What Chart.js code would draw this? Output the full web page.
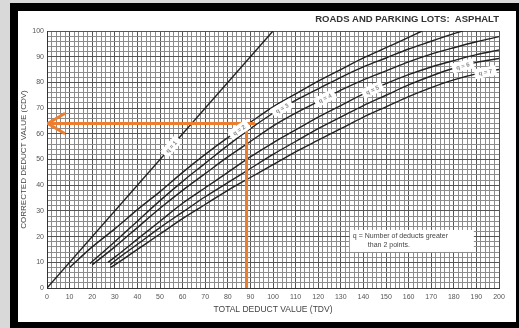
<!DOCTYPE html>
<html><head><meta charset="utf-8">
<script src="https://cdn.jsdelivr.net/npm/chart.js@4.4.0/dist/chart.umd.min.js"></script>
<style>
html,body{margin:0;padding:0;background:#d9d9d9;width:519px;height:328px;overflow:hidden}
#frame{position:absolute;left:10px;top:3px;width:509px;height:325px;background:#000}
#paper{position:absolute;left:8px;top:8px;width:498px;height:311px;background:#fff}
canvas{display:block}
</style></head><body>
<div id="frame"><div id="paper"><canvas id="c" width="498" height="311"></canvas></div></div>
<script>
// ---- data (TDV, CDV) ----
const q1TDV = [0, 100];
const q1CDV = [0, 100];
const q2TDV = [10, 20, 30, 40, 50, 60, 70, 80, 90, 100, 110, 120, 130, 140, 150, 160, 166];
const q2CDV = [8, 16, 23, 30.5, 37.5, 45, 52, 58.5, 64.5, 70.5, 75.5, 80.5, 85, 89.5, 93.5, 97.5, 100];
const q3TDV = [19, 30, 40, 50, 60, 70, 80, 90, 100, 110, 120, 130, 140, 150, 160, 170, 180, 184];
const q3CDV = [9.5, 18, 26, 34, 41.5, 48.5, 55.5, 62, 68, 73, 77.5, 82, 86, 89.5, 93, 96, 99, 100];
const q4TDV = [20, 30, 40, 50, 60, 70, 80, 90, 100, 110, 120, 130, 140, 150, 160, 170, 180, 190, 200];
const q4CDV = [9, 16, 23.5, 31, 38, 44.5, 51, 57, 63, 68, 72.5, 77, 81, 84.5, 88, 91, 93.5, 95.8, 97.8];
const q5TDV = [27, 30, 40, 50, 60, 70, 80, 90, 100, 110, 120, 130, 140, 150, 160, 170, 180, 190, 200];
const q5CDV = [10, 12, 19, 26, 33, 39, 45, 51, 56.5, 61.5, 66.5, 71, 75.5, 79.5, 83, 86, 88.5, 90.8, 92.6];
const q6TDV = [28, 30, 40, 50, 60, 70, 80, 90, 100, 110, 120, 130, 140, 150, 160, 170, 180, 190, 200];
const q6CDV = [9, 10.5, 17, 23.5, 29.5, 35.5, 41, 46.5, 52, 57, 62, 66.5, 71, 75, 79, 82.5, 85.5, 87.8, 89.3];
const q7TDV = [28, 30, 40, 50, 60, 70, 80, 90, 100, 110, 120, 130, 140, 150, 160, 170, 180, 190, 200];
const q7CDV = [8, 9, 15, 21, 27, 32.5, 38, 43, 48, 53, 57.5, 62, 66.5, 70.5, 74.5, 78, 81, 83.3, 85];
const curveNames = ['q = 1', 'q = 2', 'q = 3', 'q = 4', 'q = 5', 'q = 6', 'q = 7'];
const labelTDV = [55, 85, 104, 123, 144, 184, 194];

// orange example path
const exampleTDV = 88.3;
const exampleCDV = 64;
const exampleLineEndTDV = 92;
const arrowTipTDV = 0.4;
const arrowArmTDV = 8;
const arrowArmCDV = 4;

// ticks
const xMin = 0, xMax = 200, xLabelStep = 10, xGridStep = 2;
const yMin = 0, yMax = 100, yLabelStep = 10, yGridStep = 2;

const titleText = 'ROADS AND PARKING LOTS:  ASPHALT';
const xTitle = 'TOTAL DEDUCT VALUE (TDV)';
const yTitle = 'CORRECTED DEDUCT VALUE (CDV)';
const noteLines = ['q = Number of deducts greater', 'than 2 points.'];
const noteTDV = 134, noteCDV = 22.6;

// ---- build ----
const curves = [[q1TDV,q1CDV],[q2TDV,q2CDV],[q3TDV,q3CDV],[q4TDV,q4CDV],[q5TDV,q5CDV],[q6TDV,q6CDV],[q7TDV,q7CDV]];
const pts = (xs, ys) => xs.map((x,i)=>({x, y: ys[i]}));
const ORANGE = '#EE7E2F';
const FONT = '"Liberation Sans", Arial, sans-serif';

const datasets = [];
datasets.push({data: pts([exampleTDV, exampleTDV],[0, exampleCDV]), borderColor: ORANGE, borderWidth: 3, order: 0});
datasets.push({data: pts([exampleLineEndTDV, arrowTipTDV],[exampleCDV, exampleCDV]), borderColor: ORANGE, borderWidth: 3, order: 0});
datasets.push({data: pts([arrowArmTDV, arrowTipTDV, arrowArmTDV],[exampleCDV+arrowArmCDV, exampleCDV, exampleCDV-arrowArmCDV]), borderColor: ORANGE, borderWidth: 3, order: 0});
curves.forEach(([xs,ys],i)=>{
  datasets.push({label: curveNames[i], data: pts(xs,ys), borderColor:'#222', borderWidth:1.4,
    cubicInterpolationMode:'monotone', order: 2});
});

function interp(xs, ys, x){
  for(let i=0;i<xs.length-1;i++){
    if(x>=xs[i] && x<=xs[i+1]){const t=(x-xs[i])/(xs[i+1]-xs[i]);return ys[i]+t*(ys[i+1]-ys[i]);}
  }
  return ys[ys.length-1];
}

const labelPlugin = {
  id:'curveLabels',
  afterDatasetsDraw(chart){
    const {ctx, scales:{x, y}} = chart;
    ctx.save();
    curves.forEach(([xs,ys],i)=>{
      const t = labelTDV[i];
      const px = x.getPixelForValue(t), py = y.getPixelForValue(interp(xs,ys,t));
      const p1x = x.getPixelForValue(t-3), p1y = y.getPixelForValue(interp(xs,ys,t-3));
      const p2x = x.getPixelForValue(t+3), p2y = y.getPixelForValue(interp(xs,ys,t+3));
      const ang = Math.atan2(p2y-p1y, p2x-p1x);
      ctx.save();
      ctx.translate(px, py);
      ctx.rotate(ang);
      ctx.fillStyle = '#fff';
      ctx.fillRect(-11, -5, 22, 10);
      ctx.fillStyle = '#8a8a8a';
      ctx.font = 'bold 6px ' + FONT;
      ctx.textAlign = 'center'; ctx.textBaseline = 'middle';
      ctx.fillText(curveNames[i], 0, 0.5);
      ctx.restore();
    });
    // note box
    const nx = x.getPixelForValue(noteTDV), ny = y.getPixelForValue(noteCDV);
    ctx.fillStyle = '#fff';
    ctx.fillRect(nx, ny, 124, 22);
    ctx.fillStyle = '#444';
    ctx.font = '7px ' + FONT;
    ctx.textAlign = 'left'; ctx.textBaseline = 'middle';
    ctx.fillText(noteLines[0], nx+3, ny+6.5);
    ctx.fillText(noteLines[1], nx+18, ny+15.5);
    ctx.restore();
  }
};

const gridColor = (ctx) => (ctx.tick && ctx.tick.value % 10 === 0) ? '#555' : '#8c8c8c';
const tickFont = {family:FONT, size:7};

new Chart(document.getElementById('c'), {
  type:'line',
  data:{datasets},
  options:{
    responsive:false, animation:false, devicePixelRatio:1,
    elements:{point:{radius:0}, line:{tension:0}},
    layout:{padding:{left:0, right:17, top:0, bottom:0}},
    plugins:{
      legend:{display:false}, tooltip:{enabled:false},
      title:{display:true, text:titleText, align:'end', color:'#333',
        font:{family:FONT, size:9.5, weight:'bold'},
        padding:{top:3, bottom:5.6}}
    },
    scales:{
      x:{type:'linear', min:xMin, max:xMax,
        ticks:{stepSize:xGridStep, autoSkip:false, maxRotation:0, padding:5, color:'#555', font:tickFont,
          callback:(v)=> v % xLabelStep === 0 ? String(v) : ''},
        grid:{color:gridColor, lineWidth:1, drawTicks:false},
        border:{display:true, color:'#333', width:1},
        title:{display:true, text:xTitle, color:'#444', font:{family:FONT, size:8.5}, padding:{top:0,bottom:7}},
        afterFit:(s)=>{s.height=34;}
      },
      y:{type:'linear', min:yMin, max:yMax,
        ticks:{stepSize:yGridStep, autoSkip:false, padding:3, color:'#555', font:tickFont,
          callback:(v)=> v % yLabelStep === 0 ? String(v) : ''},
        grid:{color:gridColor, lineWidth:1, drawTicks:false},
        border:{display:true, color:'#333', width:1},
        title:{display:true, text:yTitle, color:'#444', font:{family:FONT, size:8}, padding:{top:0.5,bottom:0}},
        afterFit:(s)=>{s.width=29;}
      }
    }
  },
  plugins:[labelPlugin]
});
</script>
</body></html>
